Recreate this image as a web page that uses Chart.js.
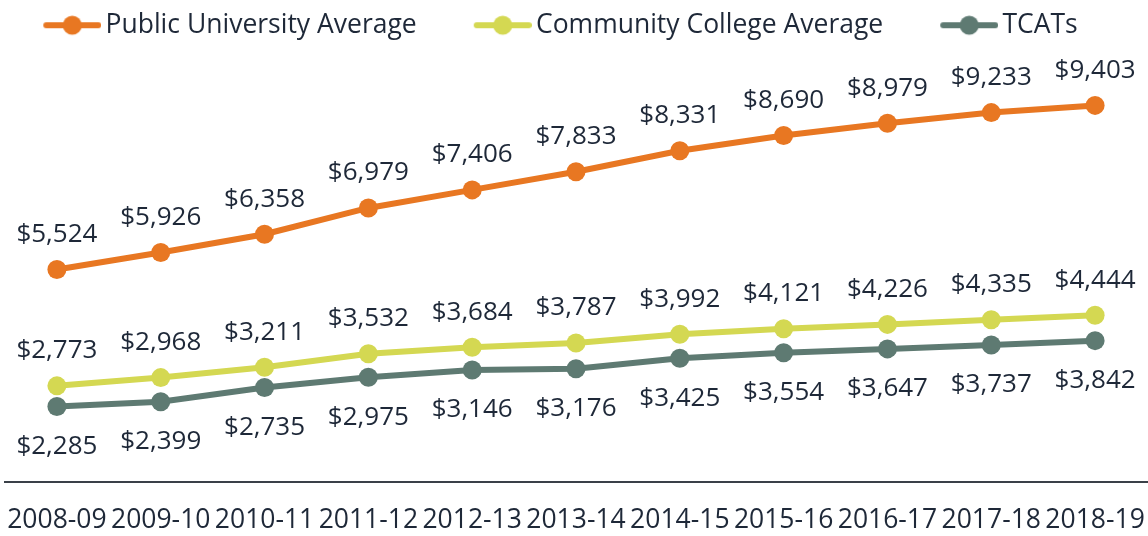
<!DOCTYPE html>
<html>
<head>
<meta charset="utf-8">
<script src="https://cdn.jsdelivr.net/npm/chart.js@4/dist/chart.umd.min.js"></script>
<style>
  html, body { margin: 0; padding: 0; background: #ffffff; }
  #wrap { width: 1148px; height: 536px; position: relative; }
</style>
</head>
<body>
<div id="wrap"><canvas id="c"></canvas></div>
<script>
// Academic years on the x axis
const years = ['2008-09', '2009-10', '2010-11', '2011-12', '2012-13', '2013-14',
               '2014-15', '2015-16', '2016-17', '2017-18', '2018-19'];

// Average tuition and fees, in dollars
const publicUniversity = [5524, 5926, 6358, 6979, 7406, 7833, 8331, 8690, 8979, 9233, 9403];
const communityCollege = [2773, 2968, 3211, 3532, 3684, 3787, 3992, 4121, 4226, 4335, 4444];
const tcats = [2285, 2399, 2735, 2975, 3146, 3176, 3425, 3554, 3647, 3737, 3842];

const seriesNames = ['Public University Average', 'Community College Average', 'TCATs'];
const seriesColors = ['#E87722', '#D4D852', '#5E7A72'];

const textColor = '#1E2838';
const fontFamily = '"Open Sans", "DejaVu Sans", sans-serif';

// Legend marker: a short thick line with a dot in the middle, placed at the
// right end of a wider transparent canvas so the items get extra spacing
const MARK_BOX = 94;
function makeMarker(color) {
  const cv = document.createElement('canvas');
  cv.width = MARK_BOX + 18; cv.height = 22;
  const g = cv.getContext('2d');
  const x0 = cv.width - 58;
  g.strokeStyle = color;
  g.lineWidth = 6;
  g.lineCap = 'round';
  g.beginPath();
  g.moveTo(x0 + 3, 11); g.lineTo(x0 + 55, 11);
  g.stroke();
  g.fillStyle = color;
  g.beginPath();
  g.arc(x0 + 29, 11, 9.5, 0, Math.PI * 2);
  g.fill();
  return cv;
}
const markers = seriesColors.map(makeMarker);

const fmt = v => '$' + v.toLocaleString('en-US');

// Value labels: above the points for the first two series, below for the last
const valueLabels = {
  id: 'valueLabels',
  afterDatasetsDraw(chart) {
    const ctx = chart.ctx;
    ctx.save();
    ctx.font = '26px ' + fontFamily;
    ctx.fillStyle = textColor;
    ctx.textAlign = 'center';
    ctx.textBaseline = 'middle';
    chart.data.datasets.forEach((ds, i) => {
      const meta = chart.getDatasetMeta(i);
      meta.data.forEach((pt, j) => {
        const dy = i === 2 ? 40 : -35;
        ctx.fillText(fmt(ds.data[j]), pt.x, pt.y + dy);
      });
    });
    ctx.restore();
  }
};

// Fixed legend height, and the legend row nudged a little to the left
const legendTweak = {
  id: 'legendTweak',
  beforeInit(chart) {
    const lg = chart.legend;
    const origFit = lg.fit;
    lg.fit = function () {
      origFit.call(this);
      this.height = 59;
    };
    const origDraw = lg.draw;
    lg.draw = function () {
      const ctx = this.ctx;
      ctx.save();
      ctx.translate(-38, 0);
      origDraw.call(this);
      ctx.restore();
    };
  }
};

const seriesData = [publicUniversity, communityCollege, tcats];

new Chart(document.getElementById('c'), {
  type: 'line',
  data: {
    labels: years,
    datasets: seriesData.map((d, i) => ({
      label: seriesNames[i],
      data: d,
      borderColor: seriesColors[i],
      backgroundColor: seriesColors[i],
      borderWidth: 6,
      pointRadius: 9.5,
      pointHoverRadius: 9.5,
      pointBorderWidth: 0,
      tension: 0,
      fill: false
    }))
  },
  options: {
    responsive: true,
    maintainAspectRatio: false,
    animation: false,
    events: [],
    layout: { autoPadding: false, padding: { left: 5, right: 1, top: 0, bottom: 2 } },
    plugins: {
      tooltip: { enabled: false },
      legend: {
        display: true,
        position: 'top',
        labels: {
          color: textColor,
          font: { family: fontFamily, size: 26.5 },
          usePointStyle: true,
          pointStyleWidth: MARK_BOX,
          boxHeight: 22,
          padding: 12,
          generateLabels(chart) {
            return chart.data.datasets.map((ds, i) => ({
              text: ds.label,
              fillStyle: seriesColors[i],
              strokeStyle: seriesColors[i],
              lineWidth: 0,
              pointStyle: markers[i],
              fontColor: textColor,
              hidden: false,
              datasetIndex: i
            }));
          }
        }
      }
    },
    scales: {
      x: {
        offset: true,
        grid: { display: false, drawTicks: false },
        border: { display: true, color: '#3a4048', width: 2 },
        ticks: {
          color: textColor,
          font: { family: fontFamily, size: 26.5 },
          padding: 23,
          maxRotation: 0,
          autoSkip: false
        },
        afterFit(scale) {
          // labels sit close together; keep the plot full width
          scale.height = 52;
          scale.paddingLeft = 0;
          scale.paddingRight = 0;
        }
      },
      y: {
        display: false,
        min: 500,
        max: 10500
      }
    }
  },
  plugins: [valueLabels, legendTweak]
});
</script>
</body>
</html>
